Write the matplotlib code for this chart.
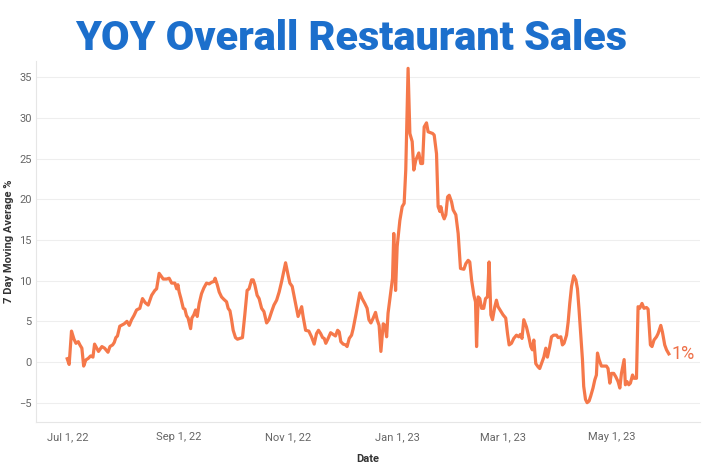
import numpy as np
import pandas as pd
import matplotlib
matplotlib.use('Agg')
import matplotlib.pyplot as plt

# Days since Jul 1, 2022 and the 7 day moving average (%)
days = [-0.4, 0.7, 2.0, 3.4, 4.5, 5.8, 6.7, 7.8, 8.8, 10.0, 11.4, 12.7, 14.0, 14.9,
        17.1, 19.0, 20.5, 22.4, 23.5, 25.0, 25.9, 26.8, 27.7, 29.0, 31.5, 33.0,
        34.3, 35.6, 36.9, 38.4, 40.2, 41.7, 43.2, 44.9, 46.8, 48.6, 49.6, 51.0,
        53.3, 55.2, 56.6, 58.0, 59.8, 60.8, 61.5, 62.2, 63.2, 64.5, 65.4, 66.3,
        67.2, 68.6, 69.3, 70.4, 71.4, 72.3, 73.4, 74.7, 76.0, 77.5, 79.0, 80.3,
        81.6, 82.3, 83.5, 84.6, 85.9, 87.2, 88.7, 89.6, 90.6, 91.5, 92.4, 93.7,
        94.8, 96.1, 97.6, 98.9, 100.2, 101.3, 102.7, 103.6, 104.5, 105.8, 106.9,
        108.3, 109.6, 111.1, 112.4, 113.9, 115.2, 116.7, 118.1, 119.5, 121.7,
        123.1, 124.1, 125.4, 126.9, 128.7, 130.7, 131.5, 132.9, 134.7, 136.2,
        137.7, 139.0, 140.1, 141.3, 142.4, 143.3, 144.2, 145.5, 146.9, 148.3,
        149.6, 150.8, 151.7, 152.6, 153.9, 155.3, 156.1, 157.3, 158.6, 159.5,
        161.0, 162.3, 163.2, 164.5, 166.0, 167.3, 168.3, 169.4, 170.7, 172.0,
        172.9, 174.0, 175.0, 176.3, 177.3, 178.2, 179.0, 180.4, 181.5, 182.2,
        183.2, 184.1, 185.6, 186.9, 188.0, 188.9, 190.2, 191.2, 192.5, 193.4,
        194.5, 196.2, 197.3, 198.3, 199.2, 200.5, 201.4, 203.9, 204.8, 206.1,
        207.0, 208.0, 208.5, 209.5, 210.4, 211.3, 212.3, 213.2, 214.5, 215.4,
        216.9, 218.2, 219.5, 221.4, 222.5, 223.8, 224.7, 225.7, 227.0, 227.9,
        228.5, 229.4, 230.3, 231.3, 232.5, 233.5, 234.6, 235.5, 236.5, 237.4,
        238.7, 239.6, 240.5, 241.9, 243.3, 244.8, 245.8, 246.7, 248.0, 249.3,
        250.8, 252.1, 253.0, 253.9, 254.9, 256.4, 257.7, 258.8, 259.7, 260.5,
        261.6, 262.9, 263.8, 264.8, 266.1, 267.2, 268.1, 269.4, 270.4, 271.6,
        273.2, 274.1, 275.6, 276.5, 277.4, 278.8, 279.7, 280.6, 281.6, 282.8,
        284.0, 284.9, 285.8, 286.8, 287.7, 288.4, 289.4, 290.3, 291.4, 292.3,
        293.6, 294.6, 295.5, 296.1, 297.0, 298.3, 299.8, 301.1, 302.0, 303.0,
        303.9, 305.2, 306.3, 307.6, 308.6, 309.5, 311.0, 311.7, 312.6, 313.6,
        314.5, 315.7, 316.5, 317.9, 318.8, 319.7, 321.0, 322.1, 323.5, 324.4,
        325.7, 326.6, 327.7, 329.1, 330.0, 331.5, 332.4, 333.7, 334.7, 336.0]
values = [0.4, -0.3, 3.8, 2.8, 2.3, 2.5, 2.1, 1.7, -0.5, 0.25, 0.45, 0.75, 0.6, 2.2,
          1.3, 1.9, 1.7, 1.2, 1.9, 2.1, 2.4, 3.0, 3.2, 4.4, 4.7, 5.0,
          4.5, 5.2, 5.7, 6.4, 6.6, 7.8, 7.3, 7.0, 8.2, 8.8, 9.0, 10.9,
          10.2, 10.2, 10.3, 9.7, 9.7, 9.0, 9.5, 8.6, 7.8, 6.6, 6.5, 5.7,
          5.4, 4.1, 5.4, 5.8, 6.4, 5.6, 7.2, 8.4, 9.1, 9.7, 9.6, 9.8,
          9.9, 10.3, 9.5, 8.6, 8.0, 7.7, 7.4, 6.6, 6.3, 5.2, 3.9, 3.0,
          2.8, 2.9, 3.0, 5.8, 8.8, 9.0, 10.1, 10.1, 9.5, 8.2, 7.8,
          6.6, 6.2, 4.8, 5.2, 6.2, 7.0, 7.6, 8.6, 9.9, 12.2,
          10.7, 9.7, 9.3, 7.6, 5.6, 6.8, 5.6, 3.9, 3.8, 3.1,
          2.2, 3.5, 3.9, 3.5, 3.0, 2.9, 2.3, 2.9, 3.6, 3.4,
          3.2, 3.9, 3.7, 2.5, 2.2, 2.1, 1.9, 2.9, 3.3, 4.1,
          5.8, 7.4, 8.5, 7.8, 7.2, 6.6, 5.2, 4.8, 5.4, 6.1,
          5.2, 4.5, 1.3, 4.7, 4.5, 3.1, 6.0, 8.4, 10.3, 15.8,
          8.8, 14.2, 17.4, 19.1, 19.5, 23.6, 36.1, 28.1, 27.1, 23.6,
          24.8, 25.7, 24.4, 24.4, 28.9, 29.4, 28.3, 28.1, 27.9, 25.6,
          19.1, 18.5, 19.1, 18.1, 17.6, 18.1, 20.3, 20.5, 19.7, 18.7,
          18.1, 15.8, 11.5, 11.4, 12.1, 12.5, 12.3, 10.1, 8.2, 7.4,
          1.9, 8.0, 7.8, 6.6, 6.6, 7.8, 8.0, 12.3, 5.8, 5.2,
          6.8, 7.6, 6.8, 6.3, 5.8, 5.4, 3.5, 2.1, 2.3, 2.9,
          3.3, 3.1, 3.4, 2.9, 5.2, 4.3, 3.1, 1.9, 1.5, 2.7,
          -0.2, -0.6, -0.8, -0.2, 0.6, 1.7, 0.6, 1.9, 3.1, 3.3,
          3.3, 3.0, 3.1, 2.1, 2.3, 3.3, 4.9, 7.2, 9.3, 10.6,
          10.1, 9.0, 6.4, 3.1, 0.3, -3.0, -4.6, -5.0, -4.8, -4.2,
          -3.2, -2.2, -1.6, 1.1, 0.3, -0.5, -0.5, -0.5, -0.8, -2.6,
          -1.4, -1.4, -1.8, -2.4, -3.2, -1.4, 0.3, -2.8, -2.4, -2.8,
          -2.6, -1.6, -2.0, -2.0, 6.8, 6.6, 7.2, 6.6, 6.7, 6.5,
          2.1, 1.9, 2.7, 3.1, 3.5, 4.5, 3.7, 2.1, 1.5, 1.0]

tick_dates = ['2022-07-01', '2022-09-01', '2022-11-01', '2023-01-01', '2023-03-01', '2023-05-01']
tick_labels = ['Jul 1, 22', 'Sep 1, 22', 'Nov 1, 22', 'Jan 1, 23', 'Mar 1, 23', 'May 1, 23']
y_ticks = [-5, 0, 5, 10, 15, 20, 25, 30, 35]
last_label = '1%'

start = pd.Timestamp('2022-07-01')
dates = start + pd.to_timedelta(days, unit='D')

line_color = '#F5784A'
plt.rcParams['font.family'] = ['Roboto', 'DejaVu Sans']

fig = plt.figure(figsize=(7.04, 4.66), dpi=100)
ax = fig.add_axes([0.051, 0.094, 0.943, 0.775])

ax.plot(dates, values, color=line_color, lw=2.3, solid_joinstyle='round')
ax.annotate(last_label, xy=(dates[-1], values[-1]), xytext=(2, 0), textcoords='offset points',
            ha='left', va='center', fontsize=13, color='#EE7048')

ax.set_xlim(start - pd.Timedelta(days=17.9), start + pd.Timedelta(days=353.3))
ax.set_ylim(-7.4, 37)
ax.set_yticks(y_ticks)
ax.set_xticks(pd.to_datetime(tick_dates))
ax.set_xticklabels(tick_labels)
ax.tick_params(length=0, labelsize=8, labelcolor='#666666', pad=7)
ax.tick_params(axis='y', pad=3)
ax.grid(axis='y', color='#EEEEEE', lw=0.8)
ax.set_axisbelow(True)
for s in ['top', 'right']:
    ax.spines[s].set_visible(False)
for s in ['left', 'bottom']:
    ax.spines[s].set_color('#E6E6E6')
    ax.spines[s].set_linewidth(0.8)

ax.set_xlabel('Date', fontsize=8, fontweight='bold', color='#333333', labelpad=9)
ax.set_ylabel('7 Day Moving Average %', fontsize=8, fontweight='bold', color='#333333', labelpad=4)

title = fig.text(0.499, 0.917, 'YOY Overall Restaurant Sales', ha='center', va='center',
                 fontsize=30, fontweight='black', color='#1C6FCC')
# squeeze title to the reference width
fig.canvas.draw()
w = title.get_window_extent().width
title.set_fontsize(30 * 552 / w)

fig.savefig('out.png', dpi=100)
